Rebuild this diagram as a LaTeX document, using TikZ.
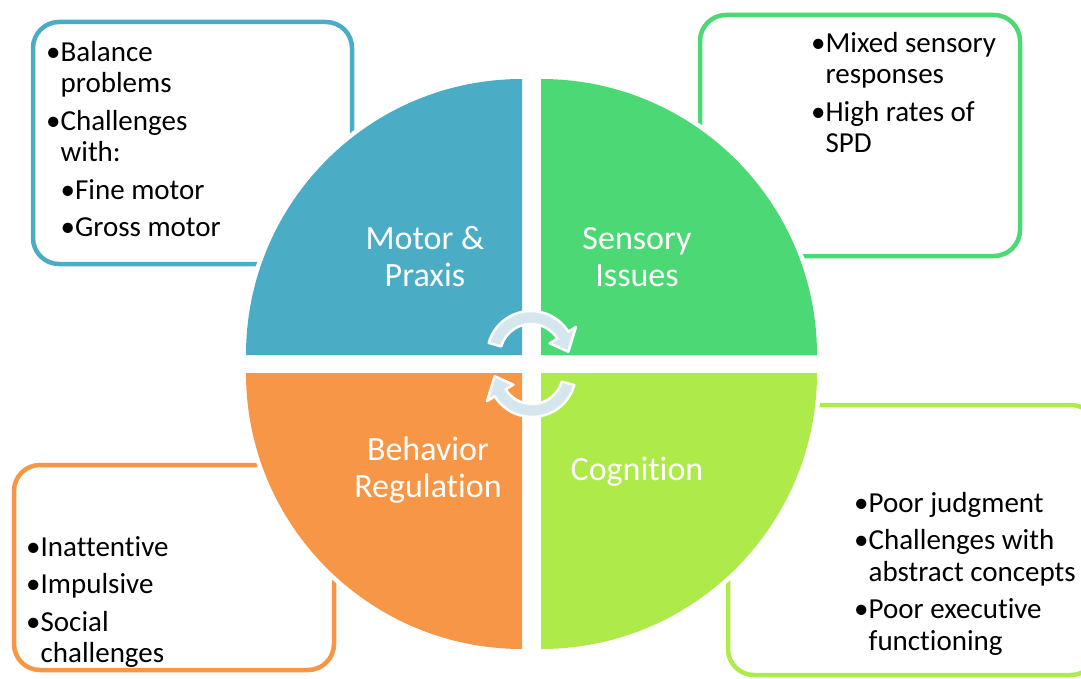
\documentclass[tikz,border=0pt]{standalone}
\usepackage{fontspec}
\setmainfont{Carlito}[Ligatures=NoCommon]
\usetikzlibrary{calc}

\definecolor{motorblue}{HTML}{4BACC6}
\definecolor{sensorygreen}{HTML}{4BD875}
\definecolor{cognlime}{HTML}{AEEA4A}
\definecolor{behavorange}{HTML}{F79646}
\definecolor{cyclegrey}{HTML}{D6E6EE}

\newcommand{\bulpad}{\hphantom{\textbullet}}
\newcommand{\firstline}{\rule{0pt}{24pt}}
\newcommand{\firstlab}{\rule{0pt}{28pt}}

\begin{document}
\begin{tikzpicture}[x=1pt, y=-1pt,
  box/.style={draw, line width=4.5pt, rounded corners=26pt, inner sep=0pt},
  quarter/.style={preaction={draw=white, line width=9pt}},
  listtext/.style={anchor=north west, inner sep=0pt, align=left, font=\fontsize{29}{31.5}\selectfont},
  quadlabel/.style={anchor=north, inner sep=0pt, align=center, text=white, font=\fontsize{34}{37}\selectfont},
  cyclearrow/.style={fill=cyclegrey, draw=white, line width=2.5pt, line join=round}]
\useasboundingbox (0,0) rectangle (1081,679);

% boxes behind the circle
\node[box, draw=motorblue, minimum width=319pt, minimum height=242pt] (motorbox) at (192.5,143) {};
\node[box, draw=sensorygreen, minimum width=320pt, minimum height=241pt] (sensorybox) at (860,135.5) {};
\node[box, draw=cognlime, minimum width=369pt, minimum height=270pt] (cognbox) at (912.5,540) {};
\node[box, draw=behavorange, minimum width=320pt, minimum height=205pt] (behavbox) at (174,567.5) {};

\node[listtext] (motorlist) at (46,37) {\firstline\textbullet Balance\\\bulpad problems\\[6pt]
  \textbullet Challenges\\\bulpad with:\\[6pt]
  \bulpad\textbullet Fine motor\\[6pt]
  \bulpad\textbullet Gross motor};
\node[listtext] (sensorylist) at (811,28) {\firstline\textbullet Mixed sensory\\\bulpad responses\\[6pt]
  \textbullet High rates of\\\bulpad SPD};
\node[listtext] (cognlist) at (854,488) {\firstline\textbullet Poor judgment\\[6pt]
  \textbullet Challenges with\\\bulpad abstract concepts\\[6pt]
  \textbullet Poor executive\\\bulpad functioning};
\node[listtext] (behavlist) at (26,532) {\firstline\textbullet Inattentive\\[6pt]
  \textbullet Impulsive\\[6pt]
  \textbullet Social\\\bulpad challenges};

% the four quarters
\path[quarter, fill=motorblue] (522,355) -- (522,79) arc[start angle=-90, end angle=-180, radius=276] -- cycle;
\path[quarter, fill=sensorygreen] (541,355) -- (541,79) arc[start angle=-90, end angle=0, radius=276] -- cycle;
\path[quarter, fill=behavorange] (522,373) -- (246,373) arc[start angle=180, end angle=90, radius=276] -- cycle;
\path[quarter, fill=cognlime] (541,373) -- (817,373) arc[start angle=0, end angle=90, radius=276] -- cycle;

\node[quadlabel] (motor) at (425,221) {\firstlab Motor \&\\Praxis};
\node[quadlabel] (sensory) at (637,221) {\firstlab Sensory\\Issues};
\node[quadlabel] (behavior) at (428,432) {\firstlab Behavior\\Regulation};
\node[quadlabel] (cognition) at (637,452) {\firstlab Cognition};

% circular arrows in the middle
\begin{scope}[shift={(531,355)}]
\path[cyclearrow] (-164:44) arc[start angle=-164, end angle=-32, radius=44] -- (-32:53) -- (-5:37.5)
  -- (-32:22) -- (-32:31) arc[start angle=-32, end angle=-164, radius=31] -- cycle;
\end{scope}
\begin{scope}[shift={(532,373)}]
\path[cyclearrow] (16:44) arc[start angle=16, end angle=148, radius=44] -- (148:53) -- (175:37.5)
  -- (148:22) -- (148:31) arc[start angle=148, end angle=16, radius=31] -- cycle;
\end{scope}

\end{tikzpicture}
\end{document}
